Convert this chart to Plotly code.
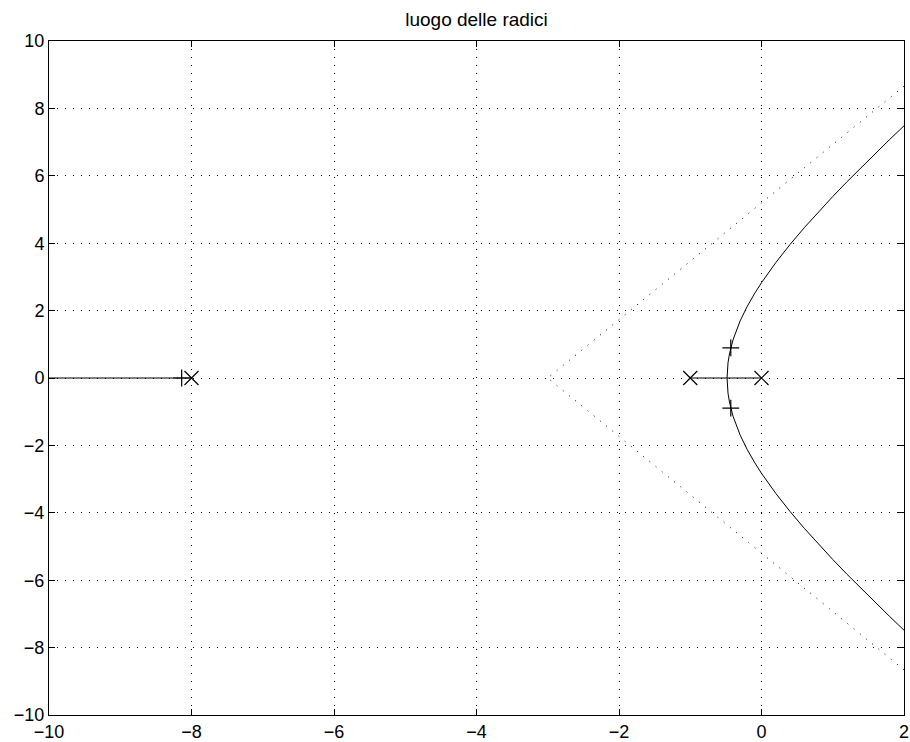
import plotly.graph_objects as go

# Poles of the open-loop system
pole_re = [-8, -1, 0]
pole_im = [0, 0, 0]

# Marked closed-loop roots ('+' markers)
mark_re = [-8.138, -0.431, -0.431]
mark_im = [0, 0.893, -0.893]

# Complex branch (upper half), mirrored for lower half
branch_re = [-0.4835, -0.48, -0.47, -0.45, -0.4, -0.3, -0.2, -0.1, 0.0, 0.2, 0.4,
             0.6, 0.8, 1.0, 1.2, 1.4, 1.6, 1.8, 2.0]
branch_im = [0.0, 0.226, 0.450, 0.712, 1.131, 1.694, 2.126, 2.496, 2.828, 3.423, 3.960,
             4.459, 4.932, 5.385, 5.824, 6.251, 6.669, 7.080, 7.483]

# Real-axis segments
seg1_re = [-1, -0.4835, 0]
seg1_im = [0, 0, 0]
seg2_re = [-8, -10]
seg2_im = [0, 0]

# Asymptotes
asym_re = [2, -3, 2]
asym_im = [8.66, 0, -8.66]

ticks_x = [-10, -8, -6, -4, -2, 0, 2]
ticks_y = [-10, -8, -6, -4, -2, 0, 2, 4, 6, 8, 10]

FONT = "Liberation Sans, Arial, Helvetica, sans-serif"

fig = go.Figure()
line = dict(color="black", width=1)

fig.add_trace(go.Scatter(x=asym_re, y=asym_im, mode="lines",
                         line=dict(color="black", width=1, dash="1px,7px")))
fig.add_trace(go.Scatter(x=seg2_re, y=seg2_im, mode="lines", line=line))
fig.add_trace(go.Scatter(x=seg1_re, y=seg1_im, mode="lines", line=line))
fig.add_trace(go.Scatter(x=branch_re, y=branch_im, mode="lines", line=line))
fig.add_trace(go.Scatter(x=branch_re, y=[-v for v in branch_im], mode="lines", line=line))
fig.add_trace(go.Scatter(x=pole_re, y=pole_im, mode="markers",
                         marker=dict(symbol="x-thin", size=14,
                                     line=dict(color="black", width=1.2))))
fig.add_trace(go.Scatter(x=mark_re, y=mark_im, mode="markers",
                         marker=dict(symbol="cross-thin", size=12,
                                     line=dict(color="black", width=1.2))))

axis_common = dict(
    showgrid=True, gridcolor="black", gridwidth=1, griddash="1px,7px",
    zeroline=False, showline=True, linecolor="black", linewidth=1, mirror="ticks",
    ticks="inside", ticklen=6, tickcolor="black", automargin=False,
    tickfont=dict(family=FONT, size=18, color="black"),
)

fig.update_xaxes(range=[-10, 2], tickvals=ticks_x, **axis_common)
fig.update_yaxes(range=[-10, 10], tickvals=ticks_y, **axis_common)

fig.update_layout(
    width=910, height=742,
    margin=dict(l=49, r=6, t=41, b=27),
    paper_bgcolor="white", plot_bgcolor="white",
    showlegend=False,
    title=dict(text="luogo delle radici", x=0.5, xref="paper", xanchor="center",
               y=1 - 19 / 742, yanchor="middle",
               font=dict(family=FONT, size=19, color="black")),
)

fig.write_html("out.html", config={"displayModeBar": False},
               post_script="document.body.style.margin='0';")
